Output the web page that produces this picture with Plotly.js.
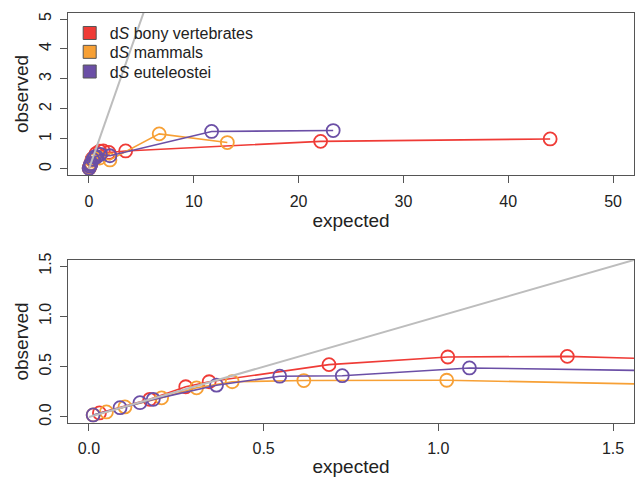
<!DOCTYPE html>
<html><head><meta charset="utf-8">
<script src="https://cdn.plot.ly/plotly-3.0.1.min.js"></script>
<style>html,body{margin:0;padding:0;background:#fff}#plot{width:636px;height:477px}</style>
</head><body><div id="plot"></div>
<script>
// Data (expected, observed)
const seriesNames = ['d<i>S</i> bony vertebrates', 'd<i>S</i> mammals', 'd<i>S</i> euteleostei'];
const seriesColors = ['#EF3B36', '#F7A035', '#6B4FA6'];

const boneExpected = [0.03, 0.174, 0.277, 0.344, 0.687, 1.027, 1.369, 1.9, 3.5, 22.1, 44.0];
const boneObserved = [0.04, 0.175, 0.30, 0.35, 0.52, 0.596, 0.602, 0.55, 0.60, 0.92, 1.0];

const mammExpected = [0.012, 0.05, 0.103, 0.208, 0.308, 0.41, 0.615, 1.024, 2.0, 6.7, 13.2];
const mammObserved = [0.02, 0.05, 0.10, 0.19, 0.29, 0.35, 0.362, 0.365, 0.30, 1.17, 0.88];

const euteExpected = [0.012, 0.089, 0.146, 0.184, 0.365, 0.546, 0.725, 1.089, 2.0, 11.7, 23.3];
const euteObserved = [0.02, 0.092, 0.142, 0.175, 0.316, 0.405, 0.41, 0.487, 0.44, 1.25, 1.28];

const identityLine = [0, 60];

const topXTicks = [0, 10, 20, 30, 40, 50];
const topYTicks = [0, 1, 2, 3, 4, 5];
const botTicks = [0, 0.5, 1.0, 1.5];
const botTickText = ['0.0', '0.5', '1.0', '1.5'];

const xs = [boneExpected, mammExpected, euteExpected];
const ys = [boneObserved, mammObserved, euteObserved];
const legendIds = ['legend', 'legend2', 'legend3'];
const legendRowsY = [0.951, 0.905, 0.857];

const traces = [];
['', '2'].forEach(function(ax){
  for (let i = 0; i < 3; i++) {
    traces.push({
      type: 'scatter', mode: 'lines+markers',
      x: xs[i], y: ys[i], xaxis: 'x' + ax, yaxis: 'y' + ax,
      line: {color: seriesColors[i], width: 1.6},
      marker: {symbol: 'circle-open', size: 13, color: seriesColors[i], line: {width: 1.8, color: seriesColors[i]}},
      showlegend: false, cliponaxis: true, hoverinfo: 'skip'
    });
  }
  traces.push({
    type: 'scatter', mode: 'lines', x: identityLine, y: identityLine,
    xaxis: 'x' + ax, yaxis: 'y' + ax,
    line: {color: '#BDBDBD', width: 2}, showlegend: false, hoverinfo: 'skip'
  });
});
for (let i = 0; i < 3; i++) {
  traces.push({
    type: 'scatter', mode: 'markers', x: [null], y: [null], name: seriesNames[i],
    legend: legendIds[i],
    marker: {symbol: 'square', size: 13, color: seriesColors[i], line: {width: 1, color: '#555'}},
    showlegend: true
  });
}

const fam = 'Liberation Sans, Arial, sans-serif';
const axisCommon = {
  showline: true, mirror: true, linecolor: '#555', linewidth: 1,
  ticks: 'outside', ticklen: 7, tickcolor: '#555', tickwidth: 1,
  showgrid: false, zeroline: false,
  tickfont: {family: fam, size: 16, color: '#222'},
  tickmode: 'array'
};
const titleFont = {family: fam, size: 19, color: '#222'};

function legendAt(y) {
  return {x: 0.003, y: y, xanchor: 'left', yanchor: 'middle', bgcolor: 'rgba(0,0,0,0)',
    font: {family: fam, size: 16, color: '#222'}};
}

const layout = {
  width: 636, height: 477,
  margin: {l: 68, r: 2, t: 13, b: 54},
  paper_bgcolor: '#fff', plot_bgcolor: '#fff',
  showlegend: true,
  legend: legendAt(legendRowsY[0]),
  legend2: legendAt(legendRowsY[1]),
  legend3: legendAt(legendRowsY[2]),
  xaxis: Object.assign({}, axisCommon, {domain: [0, 1], range: [-2, 52], tickvals: topXTicks, anchor: 'y',
    ticklabelstandoff: 5, title: {text: 'expected', font: titleFont, standoff: 4}}),
  yaxis: Object.assign({}, axisCommon, {domain: [0.605, 1], range: [-0.2, 5.2], tickvals: topYTicks, anchor: 'x', tickangle: -90,
    ticklabelstandoff: 3, title: {text: 'observed', font: titleFont, standoff: 2}}),
  xaxis2: Object.assign({}, axisCommon, {domain: [0, 1], range: [-0.06, 1.56], tickvals: botTicks, ticktext: botTickText, anchor: 'y2',
    ticklabelstandoff: 4, title: {text: 'expected', font: titleFont, standoff: 4}}),
  yaxis2: Object.assign({}, axisCommon, {domain: [0, 0.3976], range: [-0.06, 1.56], tickvals: botTicks, ticktext: botTickText, anchor: 'x2', tickangle: -90,
    ticklabelstandoff: 3, title: {text: 'observed', font: titleFont, standoff: 2}})
};

Plotly.newPlot('plot', traces, layout, {displayModeBar: false, staticPlot: true});
</script></body></html>
